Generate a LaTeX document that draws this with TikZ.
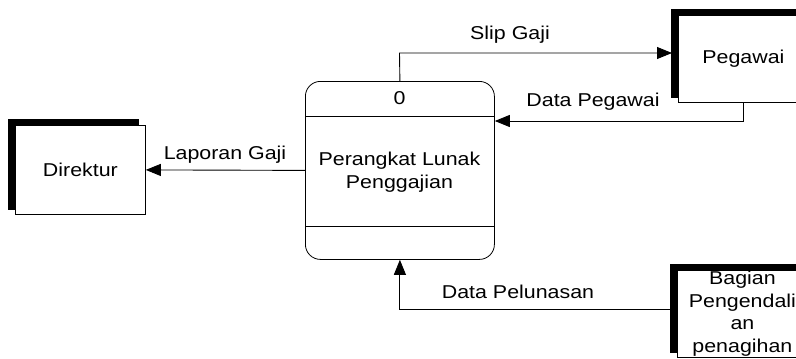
\documentclass[tikz,border=0pt]{standalone}
\usepackage{fontspec}
\setmainfont{Liberation Sans}[FakeStretch=1.15]
\usetikzlibrary{arrows.meta}

\begin{document}
\begin{tikzpicture}[x=1pt,y=-1pt,
  every node/.style={font=\fontsize{18.6}{22.5}\selectfont, inner sep=0pt},
  flow/.style={draw, line width=0.9pt, -{Triangle[length=15pt,width=12pt]}},
  entity/.style={draw, fill=white, line width=0.8pt, anchor=north west, align=center,
                 minimum width=130pt},
  band/.style={fill=black},
  procbox/.style={draw, line width=0.8pt, rounded corners=15pt, anchor=north west,
                  minimum width=189pt, minimum height=178pt}]
\useasboundingbox (0,0) rectangle (796,359);
\begin{scope}
\clip (0,0) rectangle (796,359);

% process 0
\node[procbox] (proc) at (305,81) {};
\draw[line width=0.8pt] (proc.west |- 0,116) -- (proc.east |- 0,116);
\draw[line width=0.8pt] (proc.west |- 0,226) -- (proc.east |- 0,226);
\node (pid) at (399.5,98) {0};
\node[align=center] (pname) at (399.5,172) {Perangkat Lunak\\Penggajian};

% external entities
\node[entity, minimum height=89pt] (dir) at (15,125) {Direktur};
\node[entity, minimum height=87pt] (peg) at (678,15) {Pegawai};
\node[entity, minimum height=87pt] (bag) at (677,270) {Bagian\\Pengendali\\an\\penagihan};

% thick top and left edges of the entities
\foreach \e in {dir,peg,bag}{
  \fill[band] ([shift={(-7,-6)}]\e.north west) rectangle ([shift={(-7,0)}]\e.north east);
  \fill[band] ([shift={(-7,-6)}]\e.north west) rectangle ([shift={(0,-5)}]\e.south west);
}

% data flows
\coordinate (slipbend) at (399.5,53);
\draw[flow] (proc.north) -- (slipbend) -- ([xshift=-6pt]slipbend -| peg.west);
\node (lslip) at (510,35) {Slip Gaji};

\coordinate (pegin) at (proc.east |- 0,121);
\draw[flow] (peg.south) |- (pegin);
\node (lpeg) at (593,102) {Data Pegawai};

\draw[flow] (proc.west) -- (dir.east);
\node (llap) at (225,155) {Laporan Gaji};

\coordinate (bagout) at ([xshift=-6pt]bag.west |- 0,309);
\draw[flow] (bagout) -| (proc.south);
\node (lpel) at (518,292) {Data Pelunasan};
\end{scope}
\end{tikzpicture}
\end{document}
